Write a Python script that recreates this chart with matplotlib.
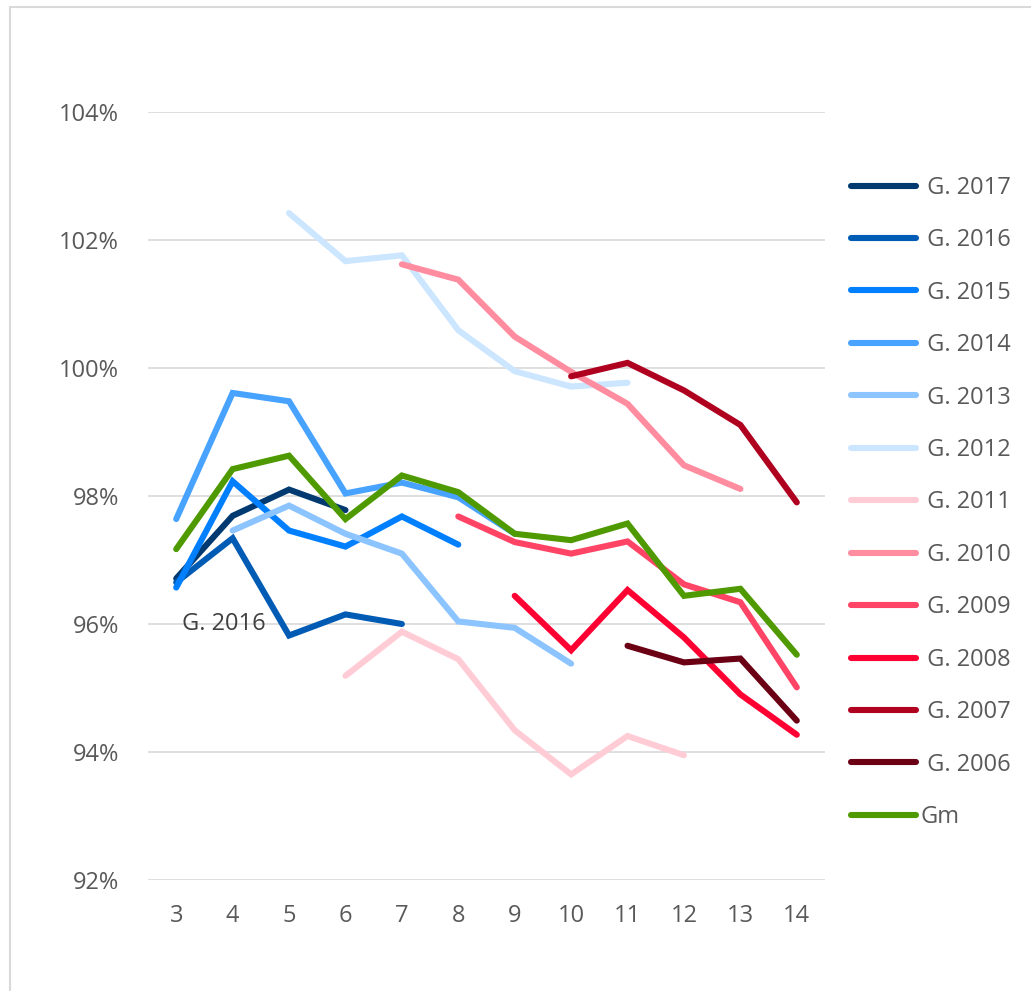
import matplotlib

matplotlib.use("Agg")
import matplotlib.pyplot as plt
from matplotlib.patches import Rectangle
import numpy as np

plt.rcParams["font.family"] = ["Open Sans", "DejaVu Sans"]

GRADES = list(range(3, 15))

SERIES_NAMES = [
    "G. 2017", "G. 2016", "G. 2015", "G. 2014", "G. 2013", "G. 2012",
    "G. 2011", "G. 2010", "G. 2009", "G. 2008", "G. 2007", "G. 2006", "Gm",
]
SERIES_COLORS = [
    "#003A70", "#005BB5", "#0080FF", "#47A3FF", "#8CC4FF", "#CCE6FF",
    "#FFCCD6", "#FF8C9F", "#FF4466", "#FF0033", "#B00020", "#6B0015", "#4E9A00",
]

nan = np.nan
# values in percent, one per grade 3..14 (nan where the cohort has no value)
g2017 = [96.71, 97.69, 98.10, 97.78, nan, nan, nan, nan, nan, nan, nan, nan]
g2016 = [96.65, 97.34, 95.82, 96.15, 96.00, nan, nan, nan, nan, nan, nan, nan]
g2015 = [96.57, 98.23, 97.46, 97.21, 97.68, 97.24, nan, nan, nan, nan, nan, nan]
g2014 = [97.64, 99.61, 99.48, 98.04, 98.21, 97.98, 97.41, nan, nan, nan, nan, nan]
g2013 = [nan, 97.46, 97.85, 97.41, 97.10, 96.04, 95.94, 95.38, nan, nan, nan, nan]
g2012 = [nan, nan, 102.42, 101.67, 101.76, 100.59, 99.95, 99.71, 99.77, nan, nan, nan]
g2011 = [nan, nan, nan, 95.19, 95.88, 95.45, 94.34, 93.65, 94.25, 93.95, nan, nan]
g2010 = [nan, nan, nan, nan, 101.62, 101.38, 100.49, 99.94, 99.44, 98.48, 98.11, nan]
g2009 = [nan, nan, nan, nan, nan, 97.68, 97.28, 97.10, 97.29, 96.62, 96.34, 95.01]
g2008 = [nan, nan, nan, nan, nan, nan, 96.44, 95.59, 96.53, 95.79, 94.90, 94.27]
g2007 = [nan, nan, nan, nan, nan, nan, nan, 99.87, 100.08, 99.65, 99.11, 97.90]
g2006 = [nan, nan, nan, nan, nan, nan, nan, nan, 95.66, 95.40, 95.46, 94.49]
gm = [97.17, 98.42, 98.63, 97.64, 98.32, 98.06, 97.41, 97.31, 97.57, 96.44, 96.55, 95.52]

SERIES_VALUES = [g2017, g2016, g2015, g2014, g2013, g2012, g2011,
                 g2010, g2009, g2008, g2007, g2006, gm]

Y_TICKS = [92, 94, 96, 98, 100, 102, 104]
TEXT_COLOR = "#595959"
GRID_COLOR = "#D9D9D9"
FS = 17

fig = plt.figure(figsize=(10.31, 9.91), dpi=100)
ax = fig.add_axes([148 / 1031, 1 - 880 / 991, (825 - 148) / 1031, (880 - 112) / 991])

handles = []
for name, color, vals in zip(SERIES_NAMES, SERIES_COLORS, SERIES_VALUES):
    (line,) = ax.plot(GRADES, vals, color=color, lw=4.4,
                      solid_capstyle="round", solid_joinstyle="miter")
    handles.append(line)

# data label on the G. 2016 series at grade 3
ax.annotate("G. 2016", xy=(GRADES[0], g2016[0]), xytext=(34, -30),
            textcoords="offset points", ha="center", va="center",
            fontsize=FS, color="#404040")

ax.set_xlim(2.5, 14.5)
ax.set_ylim(92, 104)
ax.set_xticks(GRADES)
ax.set_xticklabels([str(g) for g in GRADES])
ax.set_yticks(Y_TICKS)
ax.set_yticklabels([f"{t}%" for t in Y_TICKS])
ax.tick_params(axis="both", length=0, labelsize=FS, labelcolor=TEXT_COLOR)
ax.tick_params(axis="y", pad=21)
ax.tick_params(axis="x", pad=17)
ax.grid(axis="y", color=GRID_COLOR, lw=1.2)
ax.set_axisbelow(True)
for spine in ax.spines.values():
    spine.set_visible(False)

labels = [" " + n if n != "Gm" else n for n in SERIES_NAMES]
fig.legend(handles=handles, labels=labels, loc="center left",
           bbox_to_anchor=(851 / 1031, 1 - 502.5 / 991), frameon=False,
           fontsize=FS, labelcolor=TEXT_COLOR, handlelength=2.75,
           handletextpad=0.2, labelspacing=1.205, borderpad=0, borderaxespad=0)

# outer chart border (right and bottom edges fall outside the image)
fig.add_artist(Rectangle((10 / 1031, -0.05), 1.2, 1 - 7 / 991 + 0.05,
                         transform=fig.transFigure, fill=False,
                         ec=GRID_COLOR, lw=1.5))

fig.savefig("out.png", dpi=100)
